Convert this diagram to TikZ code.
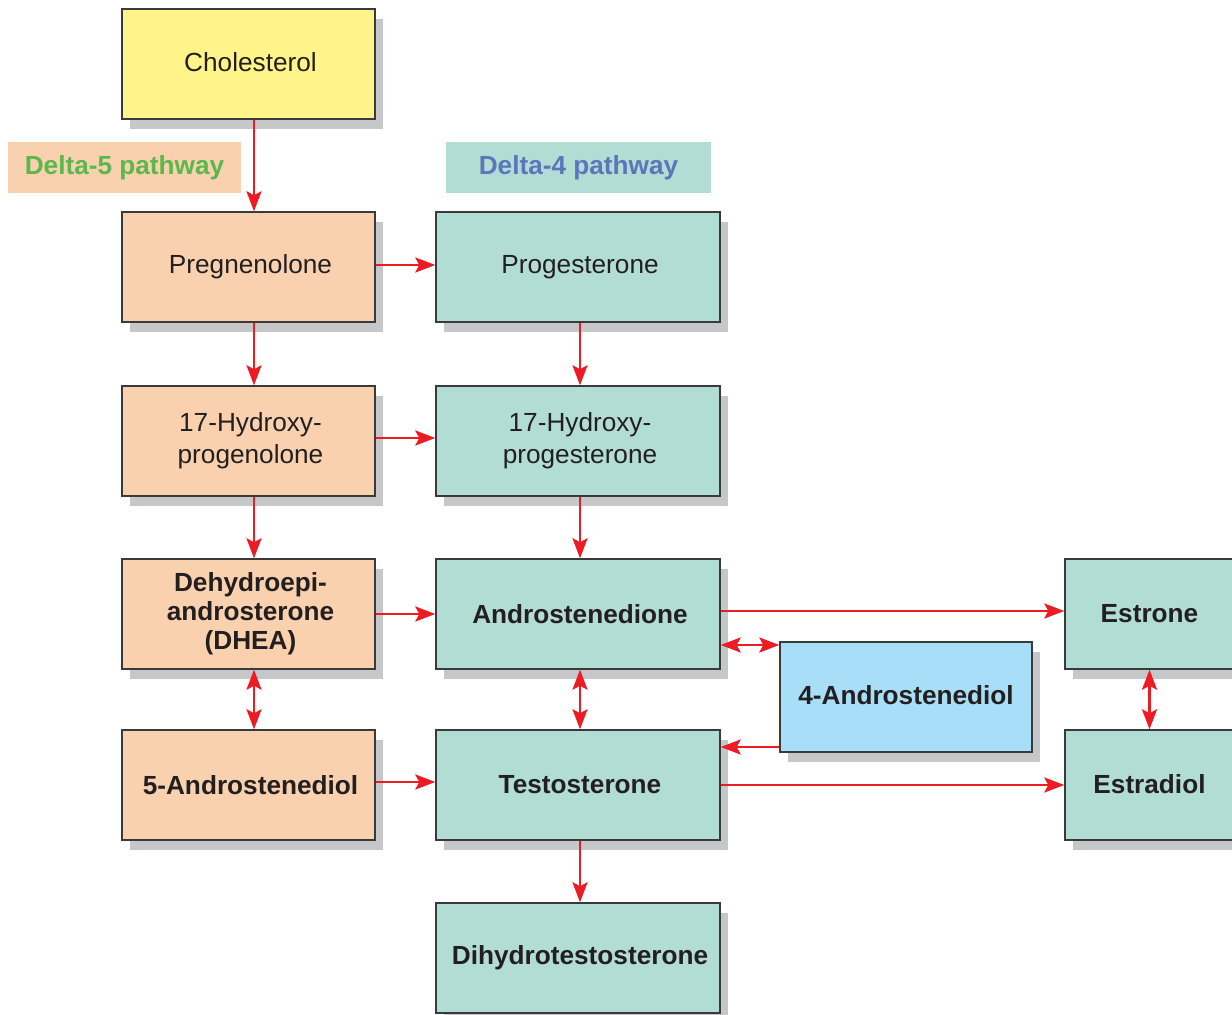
\documentclass[tikz,border=0pt]{standalone}
\usepackage{fontspec}
\setmainfont{Liberation Sans}
\usetikzlibrary{arrows.meta,shadows}
\definecolor{yel}{HTML}{FFF48A}
\definecolor{peach}{HTML}{FAD1AF}
\definecolor{teal}{HTML}{B2DDD4}
\definecolor{lblue}{HTML}{A9DEF8}
\definecolor{shade}{HTML}{C6C7C9}
\definecolor{arrred}{HTML}{ED1C24}
\definecolor{greentxt}{HTML}{5AB84C}
\definecolor{bluetxt}{HTML}{5B76BA}
\definecolor{txt}{HTML}{231F20}
\definecolor{edge}{HTML}{3A3A3A}
\tikzset{
  box/.style={draw=edge, line width=0.7pt, text=txt, align=center, inner sep=0pt,
    font=\fontsize{13.1}{16}\selectfont,
    general shadow={fill=shade, shadow xshift=4pt, shadow yshift=-5pt}},
  bbox/.style={box, font=\fontsize{13.1}{14.5}\selectfont\bfseries},
  lcol/.style={minimum width=126.5pt, minimum height=55pt},
  mcol/.style={minimum width=142pt, minimum height=55pt},
  rcol/.style={minimum width=84.5pt, minimum height=55pt},
  lab/.style={inner sep=0pt, minimum height=25.5pt, font=\fontsize{13.1}{16}\selectfont\bfseries},
  tip/.tip={Stealth[length=10pt, width=7.5pt, inset=2pt]},
  arr/.style={draw=arrred, line width=1.4pt, -tip},
  darr/.style={draw=arrred, line width=1.4pt, tip-tip}
}
\begin{document}
\begin{tikzpicture}[x=0.5pt, y=-0.5pt]
\clip (0,0) rectangle (1232,1015);
\fill[white] (0,0) rectangle (1232,1015);
% labels
\node[lab, fill=peach, text=greentxt, minimum width=116.5pt] (d5) at (124.5,167.5) {Delta-5 pathway};
\node[lab, fill=teal, text=bluetxt, minimum width=132.5pt] (d4) at (578.5,167.5) {Delta-4 pathway};
% boxes
\node[box, lcol, fill=yel] (chol) at (248.5,64) {\raisebox{2pt}{\hspace{2pt}Cholesterol}};
\node[box, lcol, fill=peach] (preg) at (248.5,267) {\hspace{2pt}Pregnenolone};
\node[box, lcol, fill=peach] (ohpreg) at (248.5,441) {\hspace{2pt}17-Hydroxy-\\\hspace{2pt}progenolone};
\node[bbox, lcol, fill=peach] (dhea) at (248.5,614) {\hspace{2pt}Dehydroepi-\\\hspace{2pt}androsterone\\\hspace{2pt}(DHEA)};
\node[bbox, lcol, fill=peach] (adiol5) at (248.5,785) {\hspace{2pt}5-Androstenediol};
\node[box, mcol, fill=teal] (prog) at (578,267) {\hspace{2pt}Progesterone};
\node[box, mcol, fill=teal] (ohprog) at (578,441) {\hspace{2pt}17-Hydroxy-\\\hspace{2pt}progesterone};
\node[bbox, mcol, fill=teal] (adione) at (578,614) {\hspace{2pt}Androstenedione};
\node[bbox, mcol, fill=teal] (testo) at (578,785) {\hspace{2pt}Testosterone};
\node[bbox, mcol, fill=teal] (dht) at (578,958) {\hspace{2pt}Dihydrotestosterone};
\node[bbox, minimum width=126pt, minimum height=55pt, fill=lblue] (adiol4) at (906,697) {\raisebox{2pt}{4-Androstenediol}};
\node[bbox, rcol, fill=teal] (estrone) at (1149.5,614) {\raisebox{1pt}{Estrone}};
\node[bbox, rcol, fill=teal] (estradiol) at (1149.5,785) {\raisebox{1pt}{Estradiol}};
% arrows
\draw[arr] ([xshift=2.75pt]chol.south) -- ([xshift=2.75pt]preg.north);
\draw[arr] ([xshift=2.75pt]preg.south) -- ([xshift=2.75pt]ohpreg.north);
\draw[arr] ([xshift=2.75pt]ohpreg.south) -- ([xshift=2.75pt]dhea.north);
\draw[darr] ([xshift=2.75pt]dhea.south) -- ([xshift=2.75pt]adiol5.north);
\draw[arr] ([yshift=1pt]preg.east) -- ([yshift=1pt]prog.west);
\draw[arr] ([yshift=1.5pt]ohpreg.east) -- ([yshift=1.5pt]ohprog.west);
\draw[arr] (dhea.east) -- (adione.west);
\draw[arr] ([yshift=1.5pt]adiol5.east) -- ([yshift=1.5pt]testo.west);
\draw[arr] ([xshift=1pt]prog.south) -- ([xshift=1pt]ohprog.north);
\draw[arr] ([xshift=1pt]ohprog.south) -- ([xshift=1pt]adione.north);
\draw[darr] ([xshift=1pt]adione.south) -- ([xshift=1pt]testo.north);
\draw[arr] ([xshift=1pt]testo.south) -- ([xshift=1pt]dht.north);
\draw[arr] ([yshift=1.5pt]adione.east) -- ([yshift=1.5pt]estrone.west);
\draw[arr] (testo.east) -- (estradiol.west);
\draw[darr] (estrone.south) -- (estradiol.north);
\draw[darr] ([yshift=-15.5pt]adione.east) -- ([yshift=26pt]adiol4.west);
\draw[arr] ([yshift=-25pt]adiol4.west) -- ([yshift=19pt]testo.east);
\end{tikzpicture}
\end{document}
